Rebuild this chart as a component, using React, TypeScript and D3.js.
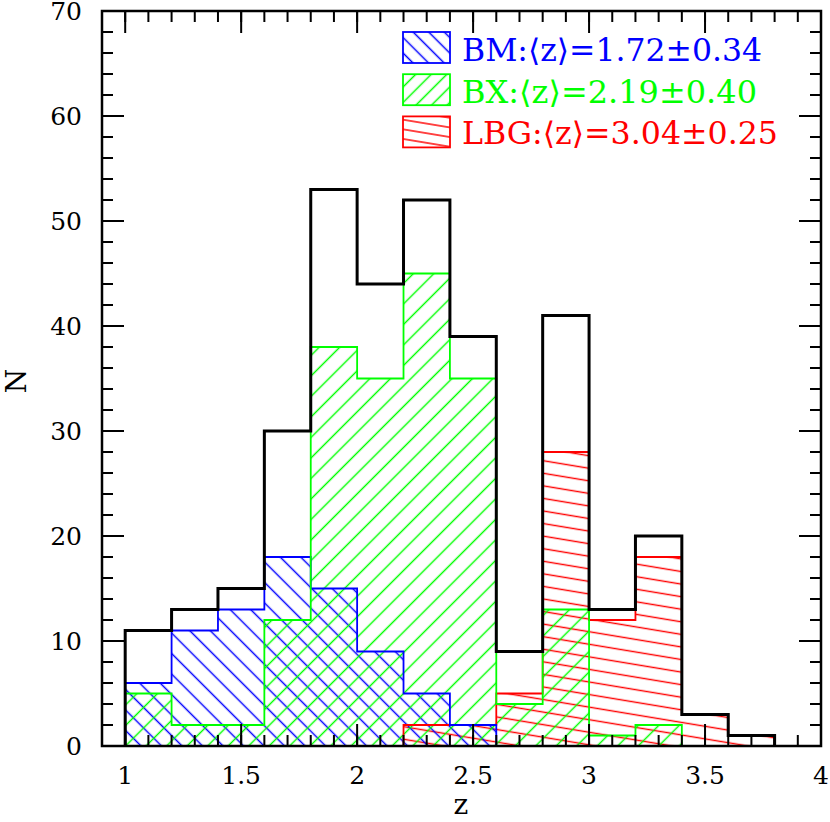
import React from "react";
import * as d3 from "d3";

const binEdges = [1.0, 1.2, 1.4, 1.6, 1.8, 2.0, 2.2, 2.4, 2.6, 2.8, 3.0, 3.2, 3.4, 3.6, 3.8];
const totalCounts = [11, 13, 15, 30, 53, 44, 52, 39, 9, 41, 13, 20, 3, 1];
const bmCounts = [6, 11, 13, 18, 15, 9, 5, 2, 0, 0, 0, 0, 0, 0];
const bxCounts = [5, 2, 2, 12, 38, 35, 45, 35, 4, 13, 1, 2, 0, 0];
const lbgCounts = [0, 0, 0, 0, 0, 0, 2, 2, 5, 28, 12, 18, 3, 1];

const xMajorTicks = [1, 1.5, 2, 2.5, 3, 3.5, 4];
const xTickLabels = ["1", "1.5", "2", "2.5", "3", "3.5", "4"];
const yMajorTicks = [0, 10, 20, 30, 40, 50, 60, 70];
const yTickLabels = ["0", "10", "20", "30", "40", "50", "60", "70"];

const legendLabels = ["BM:\u27E8z\u27E9=1.72\u00B10.34", "BX:\u27E8z\u27E9=2.19\u00B10.40", "LBG:\u27E8z\u27E9=3.04\u00B10.25"];
const legendColors = ["#0000ff", "#00ff00", "#ff0000"];
const legendPatterns = ["lgBlue", "lgGreen", "lgRed"];
const legendWidths = [300, 295, 316];

const W = 830, H = 822;
const X0 = 102, X1 = 821, Y0 = 746, Y1 = 11;

export default function App() {
  const x = d3.scaleLinear().domain([0.9, 4.0]).range([X0, X1]);
  const y = d3.scaleLinear().domain([0, 70]).range([Y0, Y1]);
  const binW = 0.2;

  const stepPoints = (counts: number[]) => {
    const first = counts.findIndex((v) => v > 0);
    let last = counts.length - 1;
    while (last >= 0 && counts[last] === 0) last--;
    const pts: [number, number][] = [];
    pts.push([binEdges[first], 0]);
    for (let i = first; i <= last; i++) {
      pts.push([binEdges[i], counts[i]]);
      pts.push([binEdges[i] + binW, counts[i]]);
    }
    pts.push([binEdges[last] + binW, 0]);
    return pts;
  };
  const line = d3.line<[number, number]>().x((d) => x(d[0])).y((d) => y(d[1]));
  const outline = (c: number[]) => line(stepPoints(c)) || "";
  const area = (c: number[]) => (line(stepPoints(c)) || "") + "Z";

  const minorX = d3.range(9, 40).map((v) => v / 10);
  const minorY = d3.range(0, 71, 2);

  const series = [
    { counts: lbgCounts, color: "#ff0000", pat: "hRed" },
    { counts: bmCounts, color: "#0000ff", pat: "hBlue" },
    { counts: bxCounts, color: "#00ff00", pat: "hGreen" },
  ];

  const font = "'DejaVu Serif', 'Liberation Serif', serif";

  return (
    <svg width={W} height={H} style={{ position: "absolute", left: 0, top: 0, background: "#fff" }}>
      <defs>
        <pattern id="hBlue" patternUnits="userSpaceOnUse" width={40} height={14.5} patternTransform="rotate(45)">
          <line x1={0} y1={7.25} x2={40} y2={7.25} stroke="#0000ff" strokeWidth={1.6} />
        </pattern>
        <pattern id="hGreen" patternUnits="userSpaceOnUse" width={40} height={14.5} patternTransform="rotate(-45)">
          <line x1={0} y1={7.25} x2={40} y2={7.25} stroke="#00ff00" strokeWidth={1.6} />
        </pattern>
        <pattern id="hRed" patternUnits="userSpaceOnUse" width={60} height={12.4} patternTransform="rotate(9.4)">
          <line x1={0} y1={6.2} x2={60} y2={6.2} stroke="#ff0000" strokeWidth={1.6} />
        </pattern>
        <pattern id="lgBlue" patternUnits="userSpaceOnUse" width={40} height={11} patternTransform="rotate(45)">
          <line x1={0} y1={5.5} x2={40} y2={5.5} stroke="#0000ff" strokeWidth={1.4} />
        </pattern>
        <pattern id="lgGreen" patternUnits="userSpaceOnUse" width={40} height={11} patternTransform="rotate(-45)">
          <line x1={0} y1={5.5} x2={40} y2={5.5} stroke="#00ff00" strokeWidth={1.4} />
        </pattern>
        <pattern id="lgRed" patternUnits="userSpaceOnUse" width={60} height={9.5} patternTransform="rotate(9.4)">
          <line x1={0} y1={4.75} x2={60} y2={4.75} stroke="#ff0000" strokeWidth={1.4} />
        </pattern>
      </defs>

      {series.map((s, i) => (
        <path key={"f" + i} d={area(s.counts)} fill={`url(#${s.pat})`} stroke="none" />
      ))}
      {series.map((s, i) => (
        <path key={"o" + i} d={outline(s.counts)} fill="none" stroke={s.color} strokeWidth={1.8} />
      ))}
      <path d={outline(totalCounts)} fill="none" stroke="#000" strokeWidth={3} strokeLinejoin="miter" />

      <rect x={X0} y={Y1} width={X1 - X0} height={Y0 - Y1} fill="none" stroke="#000" strokeWidth={2.5} />

      {minorX.map((v, i) => (
        <g key={"mx" + i}>
          <line x1={x(v)} x2={x(v)} y1={Y0} y2={Y0 - 11} stroke="#000" strokeWidth={2} />
          <line x1={x(v)} x2={x(v)} y1={Y1} y2={Y1 + 11} stroke="#000" strokeWidth={2} />
        </g>
      ))}
      {xMajorTicks.map((v, i) => (
        <g key={"Mx" + i}>
          <line x1={x(v)} x2={x(v)} y1={Y0} y2={Y0 - 22} stroke="#000" strokeWidth={2} />
          <line x1={x(v)} x2={x(v)} y1={Y1} y2={Y1 + 22} stroke="#000" strokeWidth={2} />
          <text x={x(v)} y={784} textAnchor="middle" fontFamily={font} fontSize={25}>
            {xTickLabels[i]}
          </text>
        </g>
      ))}
      {minorY.map((v, i) => (
        <g key={"my" + i}>
          <line x1={X0} x2={X0 + 11} y1={y(v)} y2={y(v)} stroke="#000" strokeWidth={2} />
          <line x1={X1} x2={X1 - 11} y1={y(v)} y2={y(v)} stroke="#000" strokeWidth={2} />
        </g>
      ))}
      {yMajorTicks.map((v, i) => (
        <g key={"My" + i}>
          <line x1={X0} x2={X0 + 22} y1={y(v)} y2={y(v)} stroke="#000" strokeWidth={2} />
          <line x1={X1} x2={X1 - 22} y1={y(v)} y2={y(v)} stroke="#000" strokeWidth={2} />
          <text x={82} y={y(v) + 9} textAnchor="end" fontFamily={font} fontSize={25}>
            {yTickLabels[i]}
          </text>
        </g>
      ))}

      <text x={461} y={814} textAnchor="middle" fontFamily={font} fontSize={28}>z</text>
      <text transform="translate(26,381) rotate(-90)" textAnchor="middle" fontFamily={font} fontSize={28}>N</text>

      {legendLabels.map((lab, i) => {
        const by = 32 + i * 42.2;
        return (
          <g key={"lg" + i}>
            <rect x={403} y={by} width={47} height={31} fill={`url(#${legendPatterns[i]})`} stroke={legendColors[i]} strokeWidth={1.8} />
            <text x={462} y={61 + i * 41.6} fontFamily={font} fontSize={31} fill={legendColors[i]} textLength={legendWidths[i]} lengthAdjust="spacingAndGlyphs">
              {lab}
            </text>
          </g>
        );
      })}
    </svg>
  );
}
